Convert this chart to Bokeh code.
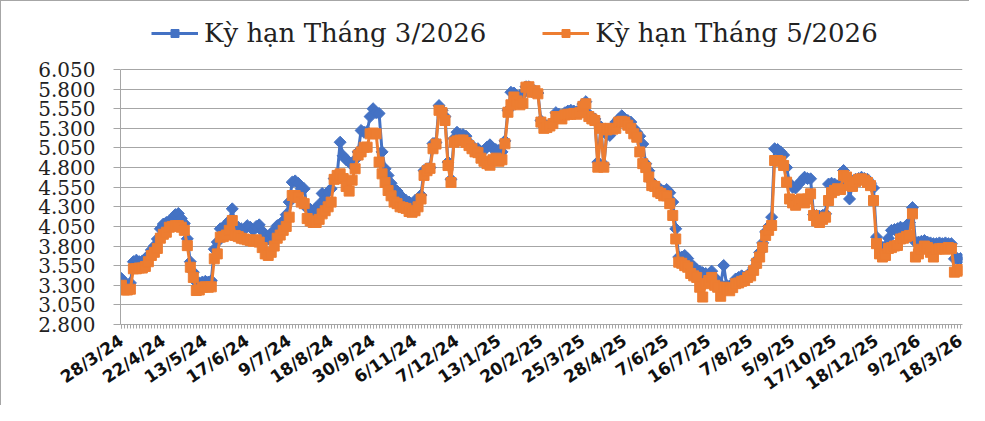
import math
from bokeh.plotting import figure
from bokeh.models import Range1d, FixedTicker, Legend, LegendItem
from bokeh.embed import file_html
from bokeh.resources import INLINE

# ---- data ----
series_names = ["Kỳ hạn Tháng 3/2026", "Kỳ hạn Tháng 5/2026"]

x_tick_labels = ["28/3/24", "22/4/24", "13/5/24", "17/6/24", "9/7/24", "18/8/24",
                 "30/9/24", "6/11/24", "7/12/24", "13/1/25", "20/2/25", "25/3/25",
                 "28/4/25", "7/6/25", "16/7/25", "7/8/25", "5/9/25", "17/10/25",
                 "18/12/25", "9/2/26", "18/3/26"]
label_every = 14

y_ticks = [2800, 3050, 3300, 3550, 3800, 4050, 4300, 4550, 4800, 5050, 5300, 5550, 5800, 6050]
y_tick_labels = ["2.800", "3.050", "3.300", "3.550", "3.800", "4.050", "4.300", "4.550",
                 "4.800", "5.050", "5.300", "5.550", "5.800", "6.050"]

mar26 = [
    3386, 3320, 3300, 3330, 3600, 3620, 3600, 3610, 3640, 3680,
    3750, 3800, 3890, 4020, 4080, 4100, 4120, 4150, 4200, 4215,
    4150, 4087, 3892, 3600, 3467, 3340, 3330, 3340, 3350, 3340,
    3360, 3760, 3850, 4020, 4000, 4080, 4120, 4274, 4050, 4040,
    4020, 4010, 4060, 4040, 4000, 4050, 4070, 3990, 3900, 3890,
    3960, 4000, 4060, 4080, 4120, 4200, 4360, 4614, 4630, 4600,
    4530, 4530, 4280, 4270, 4250, 4280, 4330, 4470, 4400, 4490,
    4530, 4660, 4700, 5123, 4950, 4900, 4870, 4830, 4900, 5000,
    5273, 5250, 5260, 5450, 5550, 5500, 5490, 5000, 4785, 4700,
    4600, 4530, 4500, 4450, 4400, 4380, 4360, 4340, 4380, 4400,
    4450, 4763, 4785, 4800, 5107, 5120, 5590, 5530, 5450, 4870,
    4650, 5170, 5250, 5220, 5220, 5200, 5120, 5060, 5040, 5040,
    5000, 5020, 5060, 5090, 5040, 5030, 5020, 5000, 5140, 5530,
    5760, 5750, 5700, 5720, 5740, 5830, 5830, 5770, 5780, 5750,
    5400, 5320, 5330, 5350, 5380, 5500, 5480, 5460, 5500, 5520,
    5530, 5520, 5510, 5530, 5610, 5640, 5480, 5440, 5420, 4870,
    5320, 4840, 5220, 5210, 5300, 5380, 5420, 5460, 5420, 5400,
    5380, 5300, 5250, 5200, 5100, 4850, 4760, 4620, 4580, 4550,
    4520, 4500, 4520, 4480, 4360, 4020, 3660, 3660, 3680, 3640,
    3560, 3540, 3500, 3480, 3460, 3450, 3440, 3480, 3400, 3350,
    3300, 3552, 3300, 3290, 3320, 3380, 3400, 3420, 3400, 3430,
    3460, 3520, 3620, 3720, 3840, 3980, 4050, 4168, 5040, 5030,
    5000, 4960, 4800, 4600, 4550, 4540, 4590, 4630, 4677, 4660,
    4657, 4200, 4190, 4180, 4190, 4210, 4590, 4600, 4590, 4560,
    4600, 4763, 4700, 4400, 4600, 4650, 4660, 4677, 4660, 4650,
    4600, 4540, 3915, 3785, 3780, 3800, 3900, 4000, 4010, 4020,
    4040, 4030, 4060, 4100, 4290, 3850, 3850, 3860, 3870, 3850,
    3840, 3830, 3830, 3840, 3830, 3840, 3830, 3830, 3637, 3640,
    3640,
]

may26 = [
    3300, 3240, 3240, 3250, 3510, 3510, 3520, 3520, 3540, 3600,
    3680, 3720, 3770, 3900, 3950, 3976, 4040, 4050, 4060, 4060,
    4040, 4000, 3805, 3530, 3400, 3233, 3240, 3275, 3280, 3275,
    3280, 3637, 3700, 3913, 3920, 3940, 4000, 4125, 3935, 3920,
    3900, 3890, 3880, 3870, 3860, 3880, 3850, 3780, 3700, 3680,
    3720, 3800, 3900, 3940, 4000, 4050, 4168, 4444, 4444, 4420,
    4360, 4340, 4150, 4120, 4100, 4100, 4140, 4210, 4250, 4300,
    4360, 4650, 4700, 4720, 4660, 4560, 4500, 4640, 4785, 4960,
    5000, 5060, 5060, 5230, 5240, 5230, 4870, 4720, 4610, 4508,
    4440, 4360, 4340, 4300, 4290, 4280, 4240, 4230, 4250, 4300,
    4400, 4700, 4760, 4790, 5040, 5100, 5530, 5500, 5400, 4826,
    4610, 5123, 5140, 5150, 5150, 5120, 5080, 5040, 5000, 4990,
    4920, 4880, 4850, 4830, 4900, 4920, 4880, 4900, 5103, 5505,
    5600, 5700, 5650, 5600, 5620, 5825, 5830, 5760, 5780, 5740,
    5380, 5300, 5310, 5330, 5360, 5450, 5440, 5420, 5470, 5480,
    5480, 5490, 5480, 5500, 5580, 5613, 5450, 5420, 5400, 4805,
    5300, 4805, 5280, 5300, 5290, 5300, 5380, 5390, 5380, 5340,
    5300, 5230, 5187, 5000, 4850, 4800, 4680, 4570, 4560, 4490,
    4470, 4440, 4440, 4340, 4190, 3890, 3594, 3580, 3550, 3530,
    3450, 3420, 3400, 3275, 3150, 3320, 3360, 3400, 3300, 3275,
    3160, 3275, 3250, 3230, 3270, 3320, 3330, 3350, 3360, 3400,
    3420, 3490, 3580, 3660, 3785, 3935, 4000, 4062, 4890, 4890,
    4880, 4826, 4614, 4400, 4350, 4320, 4380, 4400, 4350, 4400,
    4466, 4190, 4120, 4100, 4140, 4168, 4380, 4480, 4510, 4530,
    4520, 4700, 4680, 4570, 4560, 4620, 4650, 4657, 4640, 4610,
    4570, 4380, 3830, 3700, 3660, 3680, 3770, 3780, 3800, 3808,
    3890, 3900, 3920, 3935, 4210, 3660, 3700, 3760, 3800, 3780,
    3720, 3660, 3760, 3765, 3770, 3760, 3780, 3770, 3467, 3480,
    3500,
]

n = len(may26)
idx = list(range(n))
x_tick_pos = list(range(0, n, label_every))

BLUE = "#4472C4"
ORANGE = "#ED7D31"
GRID = "#a6a6a6"

# frame: value axis occupies the lower 255 px; the space above holds the legend
FRAME_H = 405 - 8 - 82
Y_MIN, Y_MAX = y_ticks[0], y_ticks[-1]
y_top = Y_MIN + FRAME_H * (Y_MAX - Y_MIN) / 255.0

p = figure(width=969, height=405, output_backend="svg", toolbar_location=None,
           x_range=Range1d(-0.3, n - 1 + 0.7), y_range=Range1d(Y_MIN, y_top),
           min_border_left=119, min_border_right=8, min_border_top=8, min_border_bottom=82)
p.outline_line_color = None
p.background_fill_color = "white"
p.border_fill_color = "white"
p.styles = {"border-top": "1px solid #a6a6a6", "border-left": "1px solid #a6a6a6"}

# series
l1 = p.line(idx, mar26, line_color=BLUE, line_width=3)
s1 = p.scatter(idx, mar26, marker="square", angle=math.pi / 4, size=8.5,
               fill_color=BLUE, line_color=BLUE)
l2 = p.line(idx, may26, line_color=ORANGE, line_width=3)
s2 = p.scatter(idx, may26, marker="square", size=10, fill_color=ORANGE, line_color=ORANGE)

# axes
p.xgrid.visible = False
p.ygrid.grid_line_color = GRID
p.ygrid.grid_line_width = 1

p.yaxis.ticker = FixedTicker(ticks=y_ticks)
p.yaxis.bounds = (Y_MIN, Y_MAX)
p.yaxis.major_label_overrides = {float(t): lab for t, lab in zip(y_ticks, y_tick_labels)}
p.yaxis.axis_line_color = GRID
p.yaxis.major_tick_line_color = GRID
p.yaxis.major_tick_out = 7
p.yaxis.major_tick_in = 0
p.yaxis.minor_tick_line_color = None
p.yaxis.major_label_standoff = 18
p.yaxis.major_label_text_font = "DejaVu Serif"
p.yaxis.major_label_text_font_size = "20px"
p.yaxis.major_label_text_color = "#222222"

p.xaxis.ticker = FixedTicker(ticks=x_tick_pos, minor_ticks=idx)
p.xaxis.major_label_overrides = {float(t): lab for t, lab in zip(x_tick_pos, x_tick_labels)}
p.xaxis.axis_line_color = GRID
p.xaxis.major_tick_line_color = GRID
p.xaxis.minor_tick_line_color = GRID
p.xaxis.major_tick_out = 4
p.xaxis.major_tick_in = 0
p.xaxis.minor_tick_out = 4
p.xaxis.minor_tick_in = 0
p.xaxis.major_label_orientation = 0.6
p.xaxis.major_label_standoff = 10
p.xaxis.major_label_text_font = "DejaVu Sans"
p.xaxis.major_label_text_font_style = "bold"
p.xaxis.major_label_text_font_size = "17px"
p.xaxis.major_label_text_color = "#111111"

legend = Legend(items=[LegendItem(label=series_names[0], renderers=[l1, s1]),
                       LegendItem(label=series_names[1], renderers=[l2, s2])],
                orientation="horizontal", location=(31, 276),
                label_text_font="DejaVu Serif", label_text_font_size="26px",
                label_text_color="#222222",
                glyph_width=47, glyph_height=20, label_standoff=6, spacing=56,
                padding=0, margin=0, border_line_color=None, background_fill_alpha=0)
p.add_layout(legend, "center")

open("out.html", "w").write(file_html(p, INLINE))
